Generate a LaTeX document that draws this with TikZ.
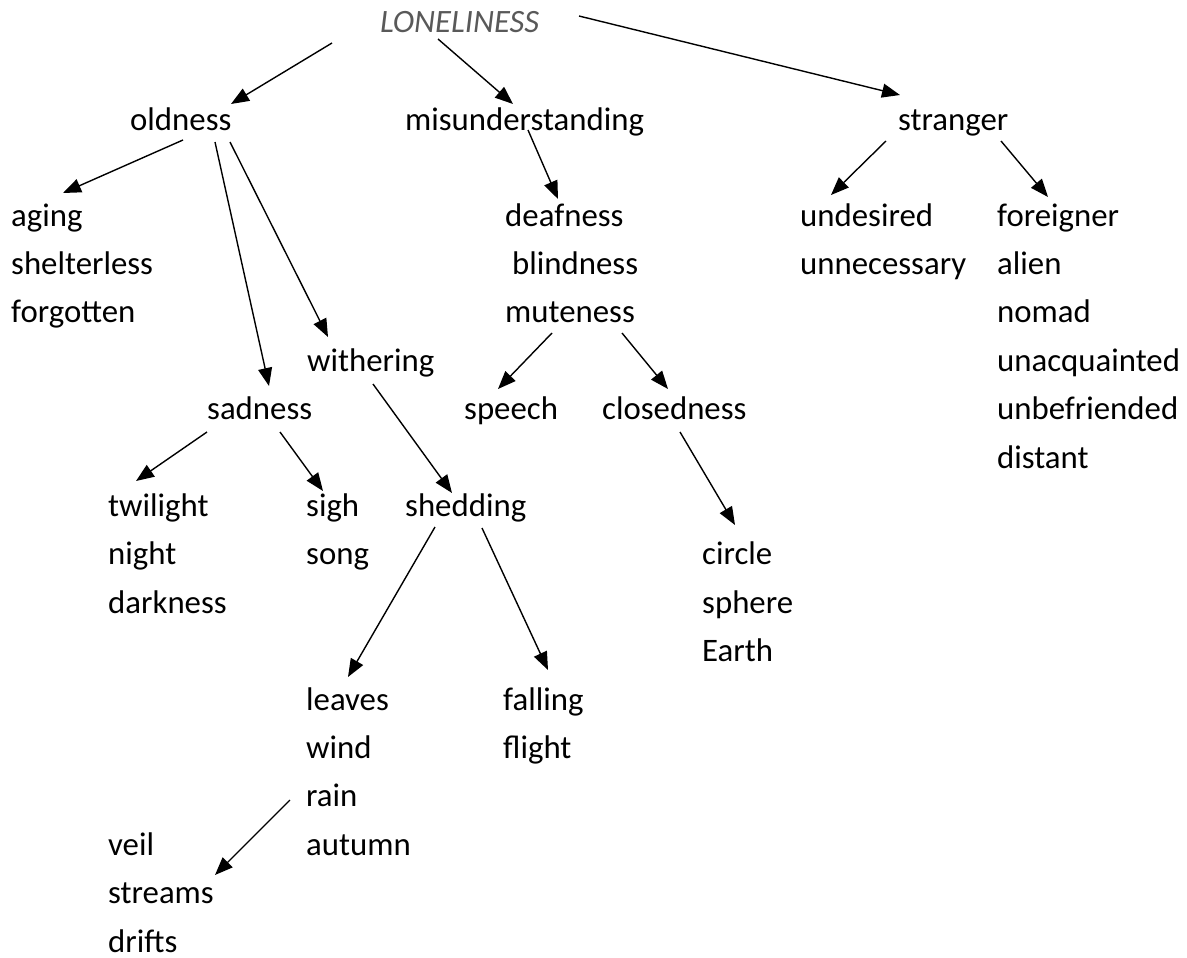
\documentclass[tikz,border=0pt]{standalone}
\usepackage{fontspec}
\setmainfont{Carlito}
\usetikzlibrary{arrows.meta}
\definecolor{headgray}{RGB}{89,89,89}
\begin{document}
\begin{tikzpicture}[x=1pt,y=-1pt,
  word/.style={anchor=base west,inner sep=0pt,font=\fontsize{32.8}{39}\selectfont},
  title/.style={word,font=\fontsize{32.6}{39}\selectfont\itshape,text=headgray},
  arr/.style={line width=1.4pt,-{Triangle[length=18pt,width=14pt]}}]
\useasboundingbox (0,0) rectangle (1187,958);

% root and first level
\node[title] (lonely) at (380,33) {LONELINESS};
\node[word] (old) at (130,131) {oldness};
\node[word] (mis) at (405,131) {misunderstanding};
\node[word] (str) at (898,131) {stranger};

% oldness branch
\node[word] (aging) at (11,226) {aging};
\node[word] (shelterless) at (11,274.4) {shelterless};
\node[word] (forgotten) at (11,322.8) {forgotten};
\node[word] (withering) at (307,371.2) {withering};
\node[word] (sadness) at (207,419.6) {sadness};
\node[word] (twilight) at (108,516.4) {twilight};
\node[word] (night) at (108,564.8) {night};
\node[word] (darkness) at (108,613.2) {darkness};
\node[word] (sigh) at (306,516.4) {sigh};
\node[word] (song) at (306,564.8) {song};
\node[word] (shedding) at (405,516.4) {shedding};
\node[word] (leaves) at (306,710) {leaves};
\node[word] (wind) at (306,758.4) {wind};
\node[word] (rain) at (306,806.8) {rain};
\node[word] (autumn) at (306,855.2) {autumn};
\node[word] (falling) at (503,710) {falling};
\node[word] (flight) at (503,758.4) {flight};
\node[word] (veil) at (108,855.2) {veil};
\node[word] (streams) at (108,903.6) {streams};
\node[word] (drifts) at (108,952) {drifts};

% misunderstanding branch
\node[word] (deaf) at (505,226) {deafness};
\node[word] (blind) at (512,274.4) {blindness};
\node[word] (mute) at (505,322.8) {muteness};
\node[word] (speech) at (464,419.6) {speech};
\node[word] (closed) at (602,419.6) {closedness};
\node[word] (circle) at (702,564.8) {circle};
\node[word] (sphere) at (702,613.2) {sphere};
\node[word] (earth) at (702,661.6) {Earth};

% stranger branch
\node[word] (undesired) at (800,226) {undesired};
\node[word] (unnecessary) at (800,274.4) {unnecessary};
\node[word] (foreigner) at (997,226) {foreigner};
\node[word] (alien) at (997,274.4) {alien};
\node[word] (nomad) at (997,322.8) {nomad};
\node[word] (unacq) at (997,371.2) {unacquainted};
\node[word] (unbef) at (997,419.6) {unbefriended};
\node[word] (distant) at (997,468) {distant};

% connectors
\draw[arr] ([shift={(-48,10)}]lonely.base west) -- ([shift={(101,-27)}]old.base west);
\draw[arr] ([shift={(58,6)}]lonely.base west) -- ([shift={(108,-27)}]mis.base west);
\draw[arr] ([shift={(199,-17)}]lonely.base west) -- ([shift={(2,-36)}]str.base west);

\draw[arr] ([shift={(53,9)}]old.base west) -- ([shift={(52,-33)}]aging.base west);
\draw[arr] ([shift={(85,11)}]old.base west) -- ([shift={(62,-33.6)}]sadness.base west);
\draw[arr] ([shift={(100,11)}]old.base west) -- ([shift={(21,-34.2)}]withering.base west);

\draw[arr] ([shift={(123,-1)}]mis.base west) -- ([shift={(53,-27)}]deaf.base west);
\draw[arr] ([shift={(-12,10)}]str.base west) -- ([shift={(31,-31)}]undesired.base west);
\draw[arr] ([shift={(103,10)}]str.base west) -- ([shift={(51,-29)}]foreigner.base west);

\draw[arr] ([shift={(47,10.2)}]mute.base west) -- ([shift={(34,-30.6)}]speech.base west);
\draw[arr] ([shift={(117,10.2)}]mute.base west) -- ([shift={(66,-30.6)}]closed.base west);
\draw[arr] ([shift={(78,12.4)}]closed.base west) -- ([shift={(33,-39.8)}]circle.base west);

\draw[arr] ([shift={(0,12.4)}]sadness.base west) -- ([shift={(28,-35.4)}]twilight.base west);
\draw[arr] ([shift={(73,12.4)}]sadness.base west) -- ([shift={(17,-25.4)}]sigh.base west);
\draw[arr] ([shift={(66,12.8)}]withering.base west) -- ([shift={(47,-23.4)}]shedding.base west);

\draw[arr] ([shift={(30,10.6)}]shedding.base west) -- ([shift={(42,-33)}]leaves.base west);
\draw[arr] ([shift={(77,11.6)}]shedding.base west) -- ([shift={(45,-40)}]falling.base west);
\draw[arr] ([shift={(-16,-6.8)}]rain.base west) -- ([shift={(107,-28.6)}]streams.base west);
\end{tikzpicture}
\end{document}
